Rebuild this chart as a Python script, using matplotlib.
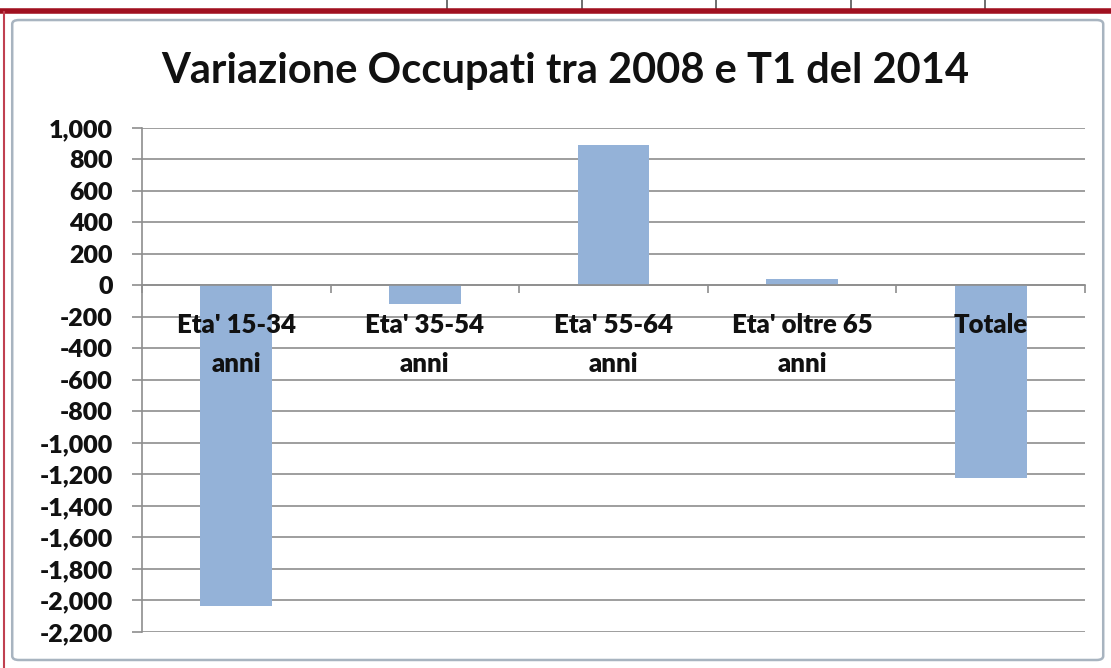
import numpy as np
import matplotlib.pyplot as plt
from matplotlib.patches import FancyBboxPatch
from matplotlib.lines import Line2D
from matplotlib.ticker import FixedLocator, FuncFormatter, NullFormatter

categories = ["Eta' 15-34\nanni", "Eta' 35-54\nanni", "Eta' 55-64\nanni",
              "Eta' oltre 65\nanni", "Totale"]
variazione = [-2035, -120, 895, 40, -1220]
y_ticks = np.arange(-2200, 1001, 200)

TITLE = "Variazione Occupati tra 2008 e T1 del 2014"
BAR_COLOR = "#94B2D8"
GRID_COLOR = "#8E8E8E"
TEXT_COLOR = "#111111"

plt.rcParams["font.family"] = ["Lato", "DejaVu Sans"]
plt.rcParams["font.weight"] = "bold"

fig = plt.figure(figsize=(11.11, 6.68), dpi=100)
fig.patch.set_facecolor("white")

# spreadsheet strip / chart frame around the plot (decoration)
for xc in [447, 582, 716, 851, 985]:
    fig.add_artist(Line2D([xc / 1111, xc / 1111], [0.982, 1.0],
                          transform=fig.transFigure, color="#555555", lw=1.2))
fig.add_artist(Line2D([0, 1], [0.983, 0.983], transform=fig.transFigure,
                      color="#A01020", lw=4))
fig.add_artist(Line2D([0.004, 0.004], [0, 0.982], transform=fig.transFigure,
                      color="#C04050", lw=1.5))
fig.add_artist(FancyBboxPatch((0.011, 0.012), 0.982, 0.958,
                              boxstyle="round,pad=0,rounding_size=0.006",
                              transform=fig.transFigure, facecolor="white",
                              edgecolor="#A8B4C0", lw=1.8, zorder=0))

ax = fig.add_axes([0.1278, 0.0539, 0.8488, 0.7545])
ax.set_facecolor("white")

x = np.arange(len(categories))
ax.bar(x, variazione, width=0.38, color=BAR_COLOR, zorder=1)

ax.set_xlim(-0.5, len(categories) - 0.5)
ax.set_ylim(y_ticks[0], y_ticks[-1])

ax.set_yticks(y_ticks)
ax.yaxis.set_major_formatter(FuncFormatter(lambda v, _: f"{int(v):,}"))
ax.grid(axis="y", color=GRID_COLOR, lw=1.2)
ax.set_axisbelow(True)

# category axis sits at zero, ticks between categories
ax.spines["bottom"].set_position(("data", 0))
ax.spines["bottom"].set_color(GRID_COLOR)
ax.spines["bottom"].set_linewidth(1.2)
ax.spines["left"].set_color(GRID_COLOR)
ax.spines["left"].set_linewidth(1.2)
ax.spines["top"].set_visible(False)
ax.spines["right"].set_visible(False)

ax.xaxis.set_major_locator(FixedLocator(np.arange(len(categories) + 1) - 0.5))
ax.xaxis.set_major_formatter(NullFormatter())
ax.tick_params(axis="x", which="major", direction="out", length=6,
               width=1.2, color=GRID_COLOR)

# category labels drawn on top of the bars, as Excel does
for xi, label in zip(x, categories):
    ax.annotate(label, xy=(xi, 0), xytext=(0, -20), textcoords="offset points",
                ha="center", va="top", fontsize=18.5, fontweight="heavy",
                color=TEXT_COLOR, linespacing=1.75, zorder=5,
                annotation_clip=False)

ax.tick_params(axis="y", direction="out", length=7, width=1.2,
               color=GRID_COLOR, labelsize=18, pad=14,
               labelcolor=TEXT_COLOR)
for lab in ax.get_yticklabels():
    lab.set_fontweight("heavy")

fig.text(0.509, 0.893, TITLE, ha="center", va="center",
         fontsize=30, fontweight="bold", color=TEXT_COLOR)

fig.savefig("out.png", dpi=100)
